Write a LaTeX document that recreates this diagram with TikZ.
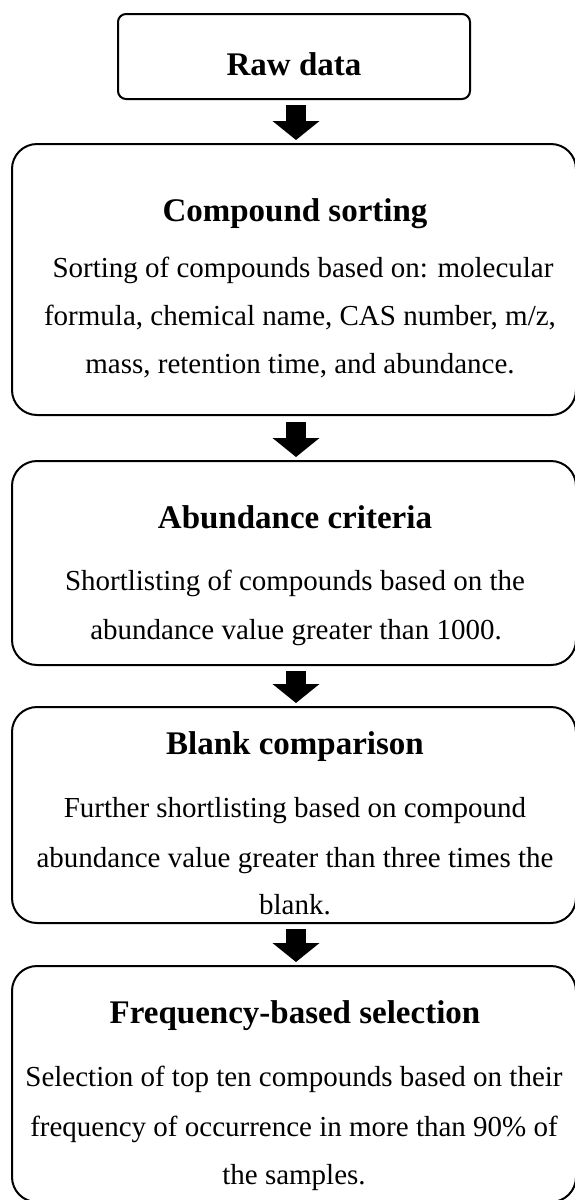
\documentclass[tikz,border=0pt]{standalone}
\usepackage{fontspec}
\setmainfont{Liberation Serif}
\usetikzlibrary{arrows.meta,calc}
\tikzset{
  boxA/.style={draw=black, line width=2pt, rounded corners=8pt, inner sep=0pt},
  boxB/.style={draw=black, line width=2pt, rounded corners=25pt, inner sep=0pt},
  ttl/.style={anchor=base, inner sep=0pt, font=\fontsize{33}{40}\selectfont\bfseries},
  bdy/.style={anchor=base, inner sep=0pt, font=\fontsize{29}{35}\selectfont},
  flow/.style={line width=20pt, -{Triangle[width=46pt,length=19pt]}},
}
\begin{document}
\begin{tikzpicture}[x=1pt,y=-1pt]
\useasboundingbox (0,0) rectangle (575,1200);
% boxes
\node[boxA, minimum width=352pt, minimum height=85pt] (raw) at (294,56.5) {};
\node[boxB, minimum width=564pt, minimum height=271pt] (sort) at (294,279.5) {};
\node[boxB, minimum width=564pt, minimum height=204pt] (abund) at (294,563) {};
\node[boxB, minimum width=564pt, minimum height=216pt] (blank) at (294,815) {};
\node[boxB, minimum width=564pt, minimum height=236pt] (freq) at (294,1084) {};
% texts
\node[ttl] (rawT) at (294,75) {Raw data};
\node[ttl] (sortT) at (295,221) {Compound sorting};
\node[bdy] (sort1) at (303,277) {Sorting of compounds based on: molecular};
\node[bdy] (sort2) at (300,325) {formula, chemical name, CAS number, m/z,};
\node[bdy] (sort3) at (300,373) {mass, retention time, and abundance.};
\node[ttl] (abundT) at (295,528) {Abundance criteria};
\node[bdy] (abund1) at (295,590) {Shortlisting of compounds based on the};
\node[bdy] (abund2) at (296,639) {abundance value greater than 1000.};
\node[ttl] (blankT) at (295,754) {Blank comparison};
\node[bdy] (blank1) at (295,817) {Further shortlisting based on compound};
\node[bdy] (blank2) at (295,867) {abundance value greater than three times the};
\node[bdy] (blank3) at (295,914) {blank.};
\node[ttl] (freqT) at (295,1023) {Frequency-based selection};
\node[bdy] (freq1) at (294,1086) {Selection of top ten compounds based on their};
\node[bdy] (freq2) at (294,1136) {frequency of occurrence in more than 90\% of};
\node[bdy] (freq3) at (294,1184) {the samples.};
% arrows
\draw[flow] ($(raw.south)+(2,5)$) -- ($(sort.north)+(2,-3)$);
\draw[flow] ($(sort.south)+(2,6)$) -- ($(abund.north)+(2,-3)$);
\draw[flow] ($(abund.south)+(2,5)$) -- ($(blank.north)+(2,-3)$);
\draw[flow] ($(blank.south)+(2,5)$) -- ($(freq.north)+(2,-3)$);
\end{tikzpicture}
\end{document}
